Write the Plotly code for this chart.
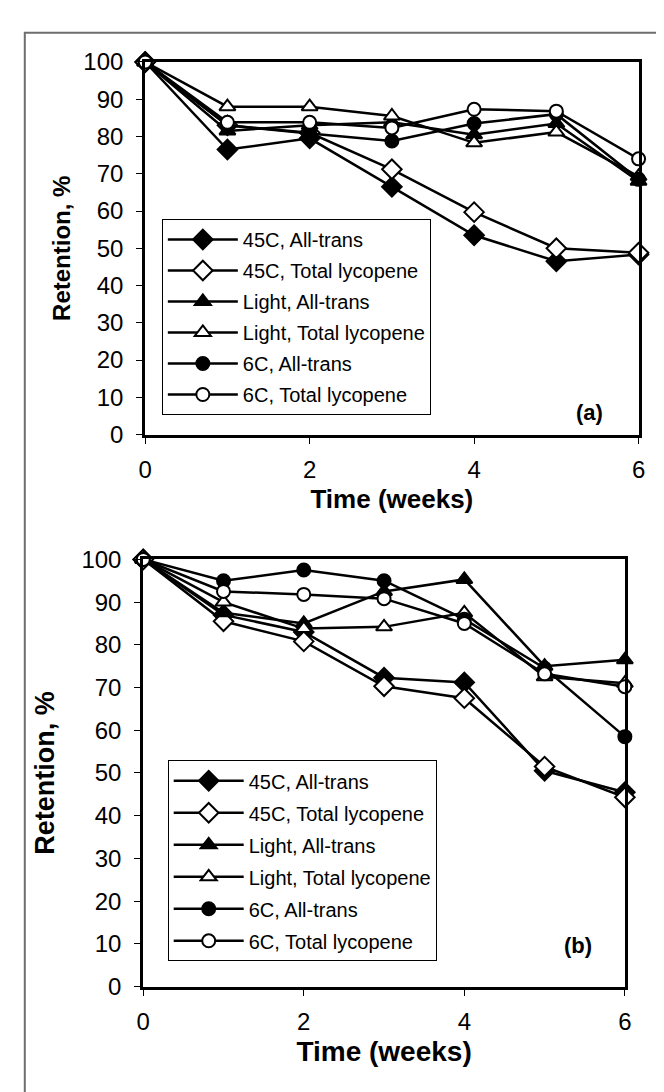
import plotly.graph_objects as go

weeks = [0, 1, 2, 3, 4, 5, 6]
series_names = ["45C, All-trans", "45C, Total lycopene", "Light, All-trans",
                "Light, Total lycopene", "6C, All-trans", "6C, Total lycopene"]

# panel (a)
a_45_all = [100, 76.5, 79.5, 66.5, 53.5, 46.5, 48.3]
a_45_tot = [100, 83.0, 81.0, 71.2, 59.7, 50.0, 48.8]
a_light_all = [100, 81.5, 83.0, 83.8, 80.5, 83.5, 68.0]
a_light_tot = [100, 88.0, 88.0, 85.5, 78.3, 81.2, 69.3]
a_6c_all = [100, 83.0, 80.8, 78.8, 83.5, 86.0, 68.5]
a_6c_tot = [100, 83.8, 83.8, 82.3, 87.3, 86.8, 74.0]

# panel (b)
b_45_all = [100, 87.0, 83.0, 72.3, 71.2, 50.5, 45.5]
b_45_tot = [100, 85.5, 80.8, 70.3, 67.5, 51.5, 44.3]
b_light_all = [100, 87.5, 85.0, 92.5, 95.3, 75.0, 76.5]
b_light_tot = [100, 90.0, 83.8, 84.2, 87.5, 72.5, 71.0]
b_6c_all = [100, 95.0, 97.5, 95.0, 86.0, 74.5, 58.5]
b_6c_tot = [100, 92.5, 91.8, 90.8, 85.0, 73.2, 70.2]

x_ticks = [0, 2, 4, 6]
y_ticks = [0, 10, 20, 30, 40, 50, 60, 70, 80, 90, 100]

styles = [("diamond", "black", 15), ("diamond", "white", 15),
          ("triangle-up", "black", 14), ("triangle-up", "white", 14),
          ("circle", "black", 13), ("circle", "white", 13)]

W, H = 664, 1092
FONT = "Liberation Sans, Arial, sans-serif"

fig = go.Figure()

panels = [
    ("x", "y", "legend", [a_45_all, a_45_tot, a_light_all, a_light_tot, a_6c_all, a_6c_tot]),
    ("x2", "y2", "legend2", [b_45_all, b_45_tot, b_light_all, b_light_tot, b_6c_all, b_6c_tot]),
]
for xa, ya, leg, data in panels:
    for name, vals, (sym, fill, size) in zip(series_names, data, styles):
        fig.add_trace(go.Scatter(
            x=weeks, y=vals, name=name, mode="lines+markers",
            xaxis=xa, yaxis=ya, legend=leg, legendgroup=leg + name,
            line=dict(color="black", width=2.5),
            marker=dict(symbol=sym, color=fill, size=size,
                        line=dict(color="black", width=2)),
            cliponaxis=False,
        ))

def px_x(p):
    return p / W

def px_y(p):
    return 1 - p / H

axis_common = dict(showline=True, linecolor="black", linewidth=3, mirror=True,
                   ticks="outside", ticklen=6, tickwidth=1, tickcolor="black",
                   showgrid=False, zeroline=False,
                   tickfont=dict(family=FONT, size=24, color="black"))

fig.update_layout(
    width=W, height=H,
    margin=dict(l=0, r=0, t=0, b=0),
    paper_bgcolor="white", plot_bgcolor="white",
    font=dict(family=FONT, color="black"),
    xaxis=dict(domain=[px_x(133), px_x(637)], range=[0, 6], tickvals=x_ticks,
               anchor="y", ticklabelstandoff=6,
               title=dict(text="Time (weeks)", standoff=8,
                          font=dict(family=FONT, size=26, weight="bold")),
               **axis_common),
    yaxis=dict(domain=[px_y(423), px_y(41)], range=[0, 100], tickvals=y_ticks,
               anchor="x", ticklabelstandoff=8,
               title=dict(text="Retention, %", standoff=6,
                          font=dict(family=FONT, size=24, weight="bold")),
               **axis_common),
    xaxis2=dict(domain=[px_x(131), px_x(623)], range=[0, 6], tickvals=x_ticks,
                anchor="y2", ticklabelstandoff=6,
                title=dict(text="Time (weeks)", standoff=8,
                           font=dict(family=FONT, size=28, weight="bold")),
                **axis_common),
    yaxis2=dict(domain=[px_y(989), px_y(551)], range=[0, 100], tickvals=y_ticks,
                anchor="x2", ticklabelstandoff=8,
                title=dict(text="Retention, %", standoff=19,
                           font=dict(family=FONT, size=27, weight="bold")),
                **axis_common),
    legend=dict(x=px_x(150), y=px_y(202), xanchor="left", yanchor="top",
                bordercolor="black", borderwidth=1, bgcolor="white",
                font=dict(family=FONT, size=20, color="black"),
                traceorder="grouped", tracegroupgap=2, itemwidth=70),
    legend2=dict(x=px_x(156), y=px_y(757), xanchor="left", yanchor="top",
                 bordercolor="black", borderwidth=1, bgcolor="white",
                 font=dict(family=FONT, size=20, color="black"),
                 traceorder="grouped", tracegroupgap=3, itemwidth=70),
    annotations=[
        dict(text="<b>(a)</b>", x=px_x(603), y=px_y(400), xref="paper", yref="paper",
             showarrow=False, font=dict(family=FONT, size=22, color="black")),
        dict(text="<b>(b)</b>", x=px_x(591), y=px_y(962), xref="paper", yref="paper",
             showarrow=False, font=dict(family=FONT, size=22, color="black")),
    ],
    shapes=[
        dict(type="rect", xref="paper", yref="paper",
             x0=px_x(10), x1=px_x(720), y0=px_y(1150), y1=px_y(11),
             line=dict(color="#6e6e6e", width=2), layer="below"),
    ],
)

fig.write_html("out.html")
